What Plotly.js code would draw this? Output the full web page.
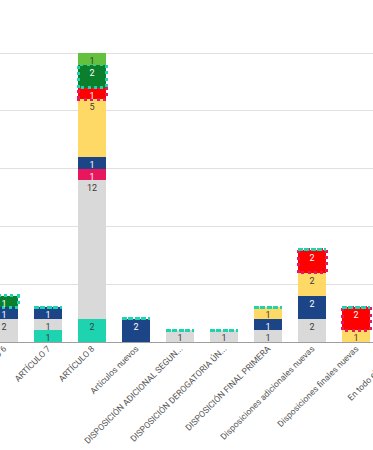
<!DOCTYPE html>
<html>
<head>
<meta charset="utf-8">
<script src="https://cdn.plot.ly/plotly-3.0.1.min.js"></script>
<style>
  html, body { margin: 0; padding: 0; overflow: hidden; width: 373px; height: 450px; background: #fff; }
  #chart { position: absolute; left: -100px; top: 0; width: 560px; height: 450px; }
  .barlayer .trace:nth-child(6) path,
  .barlayer .trace:nth-child(7) path { stroke-dasharray: 3 3.4 !important; }
</style>
</head>
<body>
<div id="chart"></div>
<script>
// Categories (full names) and the labels shown under the bars
const categories = [
  "ARTÍCULO 6", "ARTÍCULO 7", "ARTÍCULO 8", "Artículos nuevos",
  "DISPOSICIÓN ADICIONAL SEGUNDA", "DISPOSICIÓN DEROGATORIA ÚNICA",
  "DISPOSICIÓN FINAL PRIMERA", "Disposiciones adicionales nuevas",
  "Disposiciones finales nuevas", "En todo el proyecto"
];
const tickLabels = [
  "ARTÍCULO 6", "ARTÍCULO 7", "ARTÍCULO 8", "Artículos nuevos",
  "DISPOSICIÓN ADICIONAL SEGUN...", "DISPOSICIÓN DEROGATORIA ÚN...",
  "DISPOSICIÓN FINAL PRIMERA", "Disposiciones adicionales nuevas",
  "Disposiciones finales nuevas", "En todo el proyecto"
];

// Series values (stack order bottom -> top); last category is off-screen
const serieTeal     = [0, 1, 2, 0, 0, 0, 0, 0, 0, null];
const serieGrey     = [2, 1, 12, 0, 1, 1, 1, 2, 0, null];
const serieCrimson  = [0, 0, 1, 0, 0, 0, 0, 0, 0, null];
const serieBlue     = [1, 1, 1, 2, 0, 0, 1, 2, 0, null];
const serieYellow   = [0, 0, 5, 0, 0, 0, 1, 2, 1, null];
const serieRed      = [0, 0, 1, 0, 0, 0, 0, 2, 2, null];
const serieDkGreen  = [1, 0, 2, 0, 0, 0, 0, 0, 0, null];
const serieLtGreen  = [0, 0, 1, 0, 0, 0, 0, 0, 0, null];

const seriesList = [
  {name: "s1", values: serieTeal,    color: "#1dd3b0", text: "#3c3c3c"},
  {name: "s2", values: serieGrey,    color: "#d9d9d9", text: "#3c3c3c"},
  {name: "s3", values: serieCrimson, color: "#e8175d", text: "#ffffff"},
  {name: "s4", values: serieBlue,    color: "#1c4587", text: "#ffffff"},
  {name: "s5", values: serieYellow,  color: "#ffd966", text: "#3c3c3c"},
  {name: "s6", values: serieRed,     color: "#ff0000", text: "#ffffff", line: "#e8175d", lineZero: false},
  {name: "s7", values: serieDkGreen, color: "#0b7f2c", text: "#ffffff", line: "#1dd3b0", lineZero: true},
  {name: "s8", values: serieLtGreen, color: "#63c13d", text: "#3c3c3c"}
];

const traces = seriesList.map(s => {
  const t = {
    type: "bar",
    name: s.name,
    x: categories,
    y: s.values,
    text: s.values.map(v => (v ? String(v) : "")),
    textposition: "inside",
    insidetextanchor: "end",
    constraintext: "none",
    textangle: 0,
    textfont: {family: "Roboto, sans-serif", size: 9, color: s.text},
    marker: {color: s.color, line: {width: 0}},
    hoverinfo: "skip"
  };
  if (s.line) {
    t.marker.line = {
      color: s.line,
      width: s.values.map(v => (v || s.lineZero) ? 3 : 0)
    };
  }
  return t;
});

const layout = {
  barmode: "stack",
  bargap: 0.3636,
  showlegend: false,
  width: 560,
  height: 450,
  margin: {l: 100, r: 0, t: 0, b: 108},
  paper_bgcolor: "#ffffff",
  plot_bgcolor: "#ffffff",
  font: {family: "Roboto, sans-serif", color: "#555555"},
  xaxis: {
    type: "category",
    range: [-0.0909, 10.3636],
    tickmode: "array",
    tickvals: categories,
    ticktext: tickLabels,
    tickangle: -45,
    ticklabelstandoff: -3,
    tickfont: {family: "Roboto, sans-serif", size: 8.6, color: "#555555"},
    showline: true,
    linecolor: "#9e9e9e",
    linewidth: 1.3,
    showgrid: false,
    ticks: "",
    fixedrange: true
  },
  yaxis: {
    range: [0, 29.6],
    dtick: 5,
    showgrid: true,
    gridcolor: "#e0e0e0",
    gridwidth: 1,
    zeroline: false,
    showticklabels: true,
    tickfont: {family: "Roboto, sans-serif", size: 9, color: "#555555"},
    fixedrange: true
  }
};

Plotly.newPlot("chart", traces, layout, {displayModeBar: false, staticPlot: true});
</script>
</body>
</html>
